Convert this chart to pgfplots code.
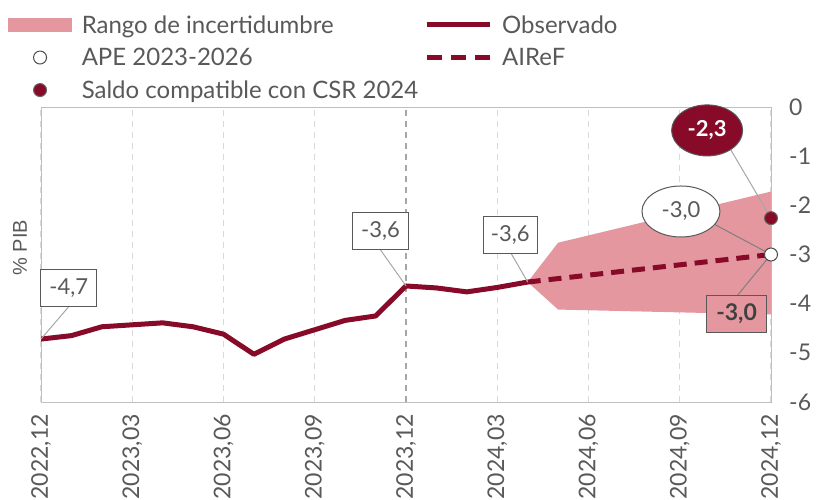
\documentclass[border=0pt]{standalone}
\usepackage{fontspec}
\setmainfont{Lato}
\newfontfamily\arialfont{Liberation Sans}
\usepackage{pgfplots}
\pgfplotsset{compat=1.18}
\usetikzlibrary{shapes.geometric}
\definecolor{dred}{HTML}{870A28}
\definecolor{band}{HTML}{E4979F}
\definecolor{txt}{HTML}{595959}
\definecolor{grd}{HTML}{D9D9D9}
\definecolor{lead}{HTML}{A6A6A6}
\definecolor{leadd}{HTML}{7F7F7F}
\begin{document}
\begin{tikzpicture}[font=\fontsize{23}{27}\selectfont]
\begin{axis}[
  at={(41pt,-402pt)}, anchor=south west,
  scale only axis, width=730pt, height=295pt,
  xmin=0, xmax=24, ymin=-6, ymax=0,
  clip=false,
  axis line style={draw=black!25, line width=1pt},
  xtick={0,3,...,24},
  xticklabels={{2022,12},{2023,03},{2023,06},{2023,09},{2023,12},{2024,03},{2024,06},{2024,09},{2024,12}},
  xticklabel style={rotate=90, anchor=east, text=txt, xshift=-10pt, inner sep=2pt},
  ytick={-6,-5,-4,-3,-2,-1,0},
  yticklabels={-6,-5,-4,-3,-2,-1,0},
  yticklabel pos=right,
  yticklabel style={text=txt, anchor=west, xshift=18pt, inner sep=0pt},
  major tick length=0pt,
  xmajorgrids, grid style={dash pattern=on 6pt off 5pt, draw=grd, line width=1.2pt},
  legend columns=2,
  legend cell align=left,
  legend style={at={(-0.045,1.318)}, anchor=north west, draw=none, fill=none,
    font=\fontsize{24}{28}\selectfont, text=txt, inner sep=0pt,
    row sep=9.5pt,
    /tikz/every even column/.append style={column sep=4pt},
    /tikz/every odd column/.append style={column sep=8pt}},
]
\addlegendimage{legend image code/.code={\fill[band] (0pt,-6.5pt) rectangle (63pt,6.5pt);}}
\addlegendentry{Rango de incertidumbre}
\addlegendimage{legend image code/.code={\draw[dred, line width=5pt] (0pt,0pt) -- (63pt,0pt);}}
\addlegendentry{Observado}
\addlegendimage{legend image code/.code={\draw[fill=white, draw=black!70, line width=1pt] (31.5pt,0pt) circle (6.5pt);}}
\addlegendentry{APE 2023-2026}
\addlegendimage{legend image code/.code={\draw[dred, line width=5pt, dash pattern=on 15pt off 9pt] (0pt,0pt) -- (63pt,0pt);}}
\addlegendentry{AIReF}
\addlegendimage{legend image code/.code={\draw[fill=dred, draw=black!60, line width=1pt] (31.5pt,0pt) circle (6.5pt);}}
\addlegendentry{Saldo compatible con CSR 2024}

% darker dashed line at 2023,12
\draw[lead, dash pattern=on 6pt off 5pt, line width=1.2pt] (axis cs:12,-6) -- (axis cs:12,0);

% uncertainty band
\addplot[fill=band, draw=none, forget plot] coordinates {
  (16,-3.56) (17,-2.76) (24,-1.72) (24,-4.22) (17,-4.12) (16,-3.56)};

% observed
\addplot[dred, line width=5pt, line join=round, forget plot] coordinates {
  (0,-4.72) (1,-4.65) (2,-4.47) (3,-4.43) (4,-4.39) (5,-4.47) (6,-4.62)
  (7,-5.03) (8,-4.72) (9,-4.53) (10,-4.34) (11,-4.25) (12,-3.64)
  (13,-3.68) (14,-3.76) (15,-3.67) (16,-3.56)};

% AIReF projection
\addplot[dred, line width=5pt, dash pattern=on 13pt off 8pt, forget plot] coordinates {
  (16,-3.56) (24,-3.0)};

% leader lines
\draw[lead, line width=1pt] (axis cs:0.90,-4.07) -- (axis cs:0,-4.72);
\draw[lead, line width=1pt] (axis cs:11.16,-2.905) -- (axis cs:12,-3.64);
\draw[lead, line width=1pt] (axis cs:15.44,-2.96) -- (axis cs:16,-3.56);
\draw[leadd, line width=1pt] (axis cs:21.04,-2.142) -- (axis cs:21.4,-2.142) -- (axis cs:24,-3.0);
\draw[lead, line width=1pt] (axis cs:21.95,-0.474) -- (axis cs:22.3,-0.474) -- (axis cs:24,-2.26);
\draw[leadd, line width=1pt] (axis cs:22.90,-3.83) -- (axis cs:24,-3.0);

% points
\addplot[only marks, mark=*, mark size=6.5pt, mark options={fill=white, draw=black!70, line width=1pt}, forget plot] coordinates {(24,-3.0)};
\addplot[only marks, mark=*, mark size=6.5pt, mark options={fill=dred, draw=black!60, line width=1pt}, forget plot] coordinates {(24,-2.26)};

% labels
\node[draw=txt, fill=white, line width=1pt, text=txt, minimum width=56pt, minimum height=37pt, inner sep=0pt, font=\fontsize{22}{26}\selectfont] at (axis cs:0.912,-3.68) {-4,7};
\node[draw=txt, fill=white, line width=1pt, text=txt, minimum width=56pt, minimum height=37pt, inner sep=0pt, font=\fontsize{22}{26}\selectfont] at (axis cs:11.16,-2.524) {-3,6};
\node[draw=txt, fill=white, line width=1pt, text=txt, minimum width=54pt, minimum height=37pt, inner sep=0pt, font=\fontsize{22}{26}\selectfont] at (axis cs:15.43,-2.60) {-3,6};
\node[ellipse, draw=txt, fill=white, line width=1pt, text=txt, minimum width=78pt, minimum height=51pt, inner sep=0pt, font=\fontsize{22}{26}\selectfont] at (axis cs:21.04,-2.125) {-3,0};
\node[ellipse, draw=txt, fill=dred, line width=1pt, text=white, minimum width=71pt, minimum height=51pt, inner sep=0pt, font=\fontsize{22}{26}\selectfont\bfseries] at (axis cs:21.90,-0.476) {-2,3};
\node[draw=txt, fill=band, line width=1pt, text=black!75, minimum width=60pt, minimum height=37pt, inner sep=0pt, font=\fontsize{23}{27}\selectfont\bfseries] at (axis cs:22.87,-4.20) {-3,0};

% y label
\node[rotate=90, text=txt, font=\arialfont\fontsize{20}{24}\selectfont] at (axis description cs:-0.0288,0.5236) {\% PIB};
\end{axis}
\pgfresetboundingbox
\useasboundingbox (0pt,0pt) rectangle (819pt,-500pt);
\end{tikzpicture}
\end{document}
